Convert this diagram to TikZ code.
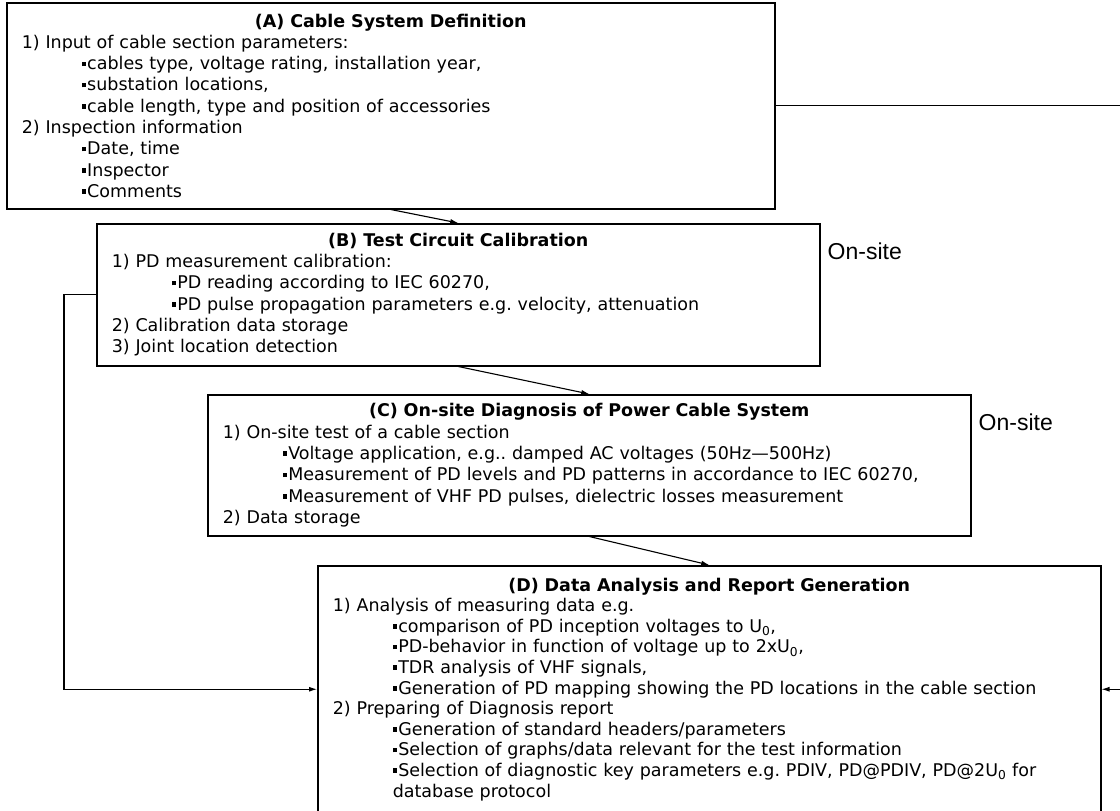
\documentclass[tikz,border=0pt]{standalone}
\usepackage{fontspec}
\setmainfont{DejaVu Sans}
\newfontfamily\labelfont{Liberation Sans}
\usetikzlibrary{positioning, arrows, arrows.meta}

\newcommand{\bul}{\hspace*{60pt}\raisebox{3.5pt}{\rule{4.5pt}{4.5pt}}\hspace{1pt}}

\begin{document}
\frenchspacing
\begin{tikzpicture}[x=1pt,y=-1pt,>={Latex[length=8pt,width=5pt]},
	box/.style={draw, line width=1.5pt, rectangle, anchor=north west, inner xsep=15pt, align=left,
		font=\fontsize{17.5}{21.3}\selectfont},
	link/.style={->, line width=1.1pt},
	onsite/.style={inner sep=0pt, anchor=west, font=\labelfont\fontsize{23}{28}\selectfont}]
	\path[use as bounding box, clip] (0,0) rectangle (1120,811);

	\node[box, text width=738pt, minimum height=206pt] (A) at (6,2) {
		\hfil\textbf{(A) Cable System Definition}\\
		1) Input of cable section parameters:\\
		\bul cables type, voltage rating, installation year,\\
		\bul substation locations,\\
		\bul cable length, type and position of accessories\\
		2) Inspection information\\
		\bul Date, time\\
		\bul Inspector\\
		\bul Comments};
	\node[box, text width=693pt, minimum height=142pt] (B) at (96,223) {
		\hfil\textbf{(B) Test Circuit Calibration}\\
		1) PD measurement calibration:\\
		\bul PD reading according to IEC 60270,\\
		\bul PD pulse propagation parameters e.g. velocity, attenuation\\
		2) Calibration data storage\\
		3) Joint location detection};
	\node[box, text width=733pt, minimum height=141pt] (C) at (207,394) {
		\hfil\textbf{(C) On-site Diagnosis of Power Cable System}\\
		1) On-site test of a cable section\\
		\bul Voltage application, e.g.. damped AC voltages (50Hz—500Hz)\\
		\bul Measurement of PD levels and PD patterns in accordance to IEC 60270,\\
		\bul Measurement of VHF PD pulses, dielectric losses measurement\\
		2) Data storage};
	\node[box, text width=753pt, minimum height=247pt, font=\fontsize{17.5}{20.6}\selectfont] (D) at (317,565) {
		\hfil\textbf{(D) Data Analysis and Report Generation}\\
		1) Analysis of measuring data e.g.\\
		\bul comparison of PD inception voltages to U\textsubscript{0},\\
		\bul PD-behavior in function of voltage up to 2xU\textsubscript{0},\\
		\bul TDR analysis of VHF signals,\\
		\bul Generation of PD mapping showing the PD locations in the cable section\\
		2) Preparing of Diagnosis report\\
		\bul Generation of standard headers/parameters\\
		\bul Selection of graphs/data relevant for the test information\\
		\bul Selection of diagnostic key parameters e.g. PDIV, PD@PDIV, PD@2U\textsubscript{0} for\\
		\hspace*{60pt}database protocol};

	\node[onsite, right=7pt of B.north east, yshift=-28pt] (siteB) {On-site};
	\node[onsite, right=7pt of C.north east, yshift=-28pt] (siteC) {On-site};

	\coordinate (leftrail) at (64,500);
	\coordinate (rightrail) at (1130,400);

	\draw[link] (A.south) -- (B.north);
	\draw[link] (B.south) -- (C.north);
	\draw[link] (C.south) -- (D.north);
	\draw[link] (B.west) -| (leftrail) |- (D.west);
	\draw[link] (A.east) -| (rightrail) |- (D.east);
\end{tikzpicture}
\end{document}
